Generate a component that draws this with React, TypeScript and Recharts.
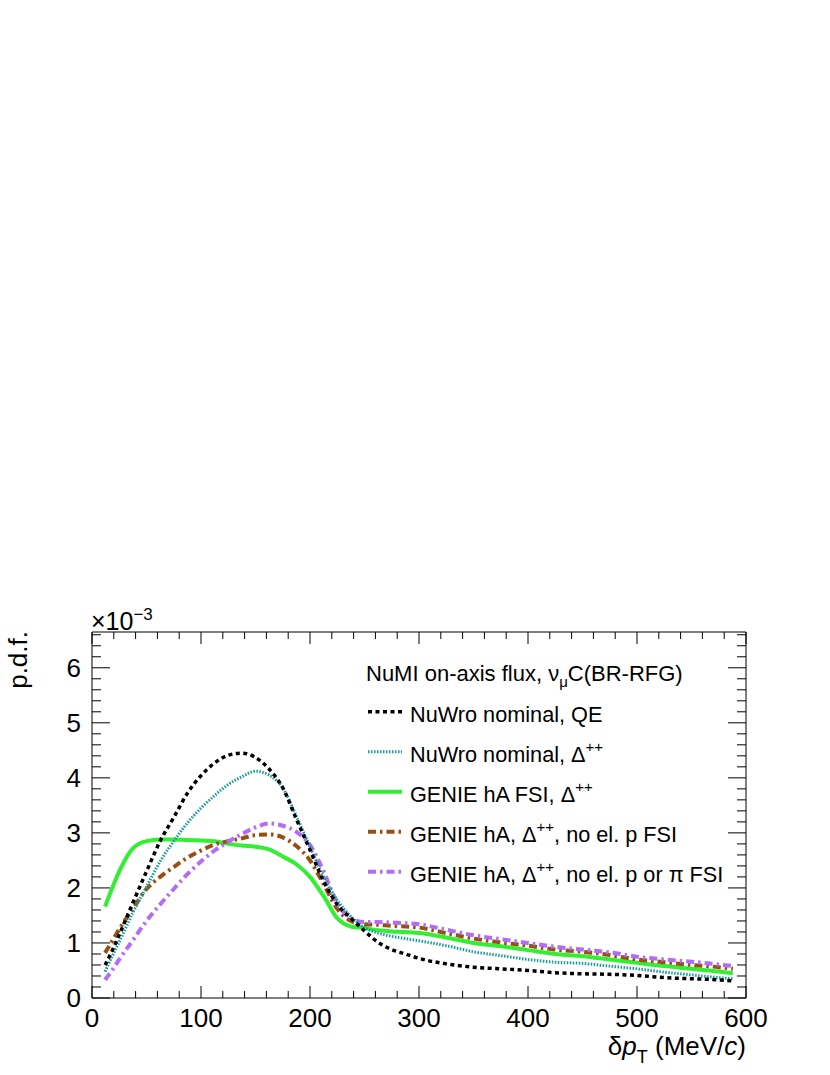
import { LineChart, Line, XAxis, YAxis } from "recharts";

// dpT bin positions (MeV/c) and p.d.f. values in units of 1e-3
const DPT = [
  12, 19, 25, 37.5, 50, 62.5, 75, 87.5, 100, 112.5, 125, 137.5, 150, 162.5, 175, 187.5, 200,
  212.5, 225, 237.5, 250, 262.5, 275, 287.5, 300, 325, 350, 375, 400, 425, 450, 475, 500, 525,
  550, 575, 588,
];

const NUWRO_QE = [
  0.6, 0.88, 1.15, 1.73, 2.3, 2.85, 3.28, 3.72, 4.04, 4.27, 4.41, 4.45, 4.37, 4.16, 3.82, 3.25,
  2.69, 2.12, 1.7, 1.45, 1.22, 1.01, 0.88, 0.8, 0.72, 0.62, 0.56, 0.53, 0.5, 0.46, 0.44, 0.43,
  0.41, 0.37, 0.35, 0.33, 0.31,
];

const NUWRO_DELTA = [
  0.48, 0.78, 1.02, 1.55, 2.02, 2.48, 2.85, 3.18, 3.45, 3.68, 3.88, 4.02, 4.12, 4.05, 3.82, 3.3,
  2.75, 2.2, 1.78, 1.48, 1.28, 1.18, 1.12, 1.08, 1.04, 0.95, 0.84, 0.77, 0.7, 0.65, 0.63, 0.58,
  0.53, 0.47, 0.42, 0.37, 0.35,
];

const GENIE_HA = [
  1.66, 2.02, 2.3, 2.72, 2.85, 2.88, 2.88, 2.87, 2.86, 2.85, 2.8, 2.77, 2.75, 2.7, 2.57, 2.43,
  2.2, 1.85, 1.45, 1.3, 1.27, 1.23, 1.21, 1.2, 1.18, 1.1, 1.0, 0.94, 0.87, 0.8, 0.76, 0.7, 0.64,
  0.58, 0.53, 0.48, 0.45,
];

const GENIE_NO_P = [
  0.82, 1.05, 1.25, 1.62, 1.98, 2.2, 2.38, 2.55, 2.68, 2.79, 2.85, 2.9, 2.96, 2.97, 2.92, 2.76,
  2.5, 2.07, 1.62, 1.4, 1.34, 1.33, 1.31, 1.3, 1.28, 1.18, 1.08, 1.01, 0.95, 0.88, 0.84, 0.78,
  0.7, 0.65, 0.6, 0.56, 0.53,
];

const GENIE_NO_P_PI = [
  0.33, 0.52, 0.7, 1.05, 1.4, 1.7, 1.98, 2.25, 2.48, 2.68, 2.84, 2.98, 3.1, 3.17, 3.13, 3.02,
  2.78, 2.3, 1.72, 1.45, 1.38, 1.38, 1.37, 1.36, 1.34, 1.24, 1.14, 1.07, 1.0, 0.93, 0.88, 0.83,
  0.75, 0.7, 0.66, 0.61, 0.58,
];

const X_LABELS = [0, 100, 200, 300, 400, 500, 600];
const Y_LABELS = [0, 1, 2, 3, 4, 5, 6];
const Y_MAX = 6.65;

// tick positions: majors plus 4 minors in between
const X_TICKS = Array.from({ length: 31 }, (_, i) => i * 20);
const Y_TICKS = Array.from({ length: 34 }, (_, i) => Math.round(i * 2) / 10);

const data = DPT.map((x, i) => ({
  x,
  qe: NUWRO_QE[i],
  nd: NUWRO_DELTA[i],
  gh: GENIE_HA[i],
  gp: GENIE_NO_P[i],
  gpp: GENIE_NO_P_PI[i],
}));

const FONT = "'Liberation Sans', Arial, Helvetica, sans-serif";

const COLORS = {
  qe: "#000000",
  nd: "#169c9c",
  gh: "#33ee33",
  gp: "#975012",
  gpp: "#b36cf8",
};

const isMajor = (v: number) => Math.abs(v - Math.round(v)) < 1e-6;

function tickFactory(side: "bottom" | "top" | "left" | "right") {
  return (props: any) => {
    const { x, y, payload } = props;
    const v = payload.value;
    if (side === "bottom" || side === "top") {
      const major = v % 100 === 0;
      const len = major ? 12 : 7;
      const dir = side === "bottom" ? -1 : 1;
      return (
        <g>
          <line x1={x} x2={x} y1={y} y2={y + dir * len} stroke="#000" strokeWidth={1} />
          {side === "bottom" && major && X_LABELS.includes(v) && (
            <text x={x} y={y + 29} textAnchor="middle" fontFamily={FONT} fontSize={26} fill="#000">
              {v}
            </text>
          )}
        </g>
      );
    }
    const major = isMajor(v);
    const len = major ? 18 : 9;
    const dir = side === "left" ? 1 : -1;
    return (
      <g>
        <line x1={x} x2={x + dir * len} y1={y} y2={y} stroke="#000" strokeWidth={1} />
        {side === "left" && major && Y_LABELS.includes(Math.round(v)) && (
          <text x={x - 11} y={y + 9} textAnchor="end" fontFamily={FONT} fontSize={26} fill="#000">
            {Math.round(v)}
          </text>
        )}
      </g>
    );
  };
}

const LEGEND = [
  { key: "qe", main: "NuWro nominal, QE", sup: "", rest: "", dash: "4 3.5", w: 3.5 },
  { key: "nd", main: "NuWro nominal, \u0394", sup: "++", rest: "", dash: "1.5 1.5", w: 3 },
  { key: "gh", main: "GENIE hA FSI, \u0394", sup: "++", rest: "", dash: undefined, w: 4 },
  { key: "gp", main: "GENIE hA, \u0394", sup: "++", rest: ", no el. p FSI", dash: "8 4 2.5 4", w: 4 },
  { key: "gpp", main: "GENIE hA, \u0394", sup: "++", rest: ", no el. p or \u03c0 FSI", dash: "8 4 2.5 4", w: 4 },
];

function Overlay() {
  return (
    <svg
      width={830}
      height={1075}
      style={{ position: "absolute", left: 0, top: 0, pointerEvents: "none" }}
    >
      <g fontFamily={FONT} fill="#000">
        {/* exponent */}
        <text x={91} y={630} fontSize={25}>
          {"\u00d710"}
          <tspan fontSize={17} dy={-10}>
            {"\u22123"}
          </tspan>
        </text>
        {/* y title */}
        <text x={27} y={631} fontSize={26} textAnchor="end" transform="rotate(-90 27 631)">
          p.d.f.
        </text>
        {/* x title */}
        <text x={746} y={1055} fontSize={26} textAnchor="end">
          {"\u03b4"}
          <tspan fontStyle="italic">p</tspan>
          <tspan fontSize={18} dy={8}>
            T
          </tspan>
          <tspan dy={-8}>{" (MeV/"}</tspan>
          <tspan fontStyle="italic">c</tspan>
          <tspan>)</tspan>
        </text>
        {/* legend */}
        <text x={366} y={681} fontSize={22}>
          {"NuMI on-axis flux, \u03bd"}
          <tspan fontSize={15} dy={6}>
            {"\u03bc"}
          </tspan>
          <tspan dy={-6}>C(BR-RFG)</tspan>
        </text>
        {LEGEND.map((e, i) => {
          const ly = 711.7 + i * 40;
          return (
            <g key={e.key}>
              <line
                x1={368}
                x2={402}
                y1={ly}
                y2={ly}
                stroke={(COLORS as any)[e.key]}
                strokeWidth={e.w}
                strokeDasharray={e.dash}
              />
              <text x={410} y={ly + 10} fontSize={21.7}>
                {e.main}
                {e.sup && (
                  <tspan fontSize={15} dy={-10}>
                    {e.sup}
                  </tspan>
                )}
                {e.rest && <tspan dy={10}>{e.rest}</tspan>}
              </text>
            </g>
          );
        })}
      </g>
    </svg>
  );
}

export default function App() {
  return (
    <div style={{ position: "absolute", left: 0, top: 0, width: 830, height: 1075, background: "#fff" }}>
      <LineChart
        width={830}
        height={1075}
        data={data}
        margin={{ top: 631, right: 83, bottom: 37, left: 32 }}
      >
        <XAxis
          xAxisId="b"
          dataKey="x"
          type="number"
          domain={[0, 600]}
          ticks={X_TICKS}
          interval={0}
          orientation="bottom"
          height={40}
          tickSize={0}
          tickMargin={0}
          tick={tickFactory("bottom")}
          tickLine={false}
          axisLine={{ stroke: "#000", strokeWidth: 1 }}
          allowDataOverflow
        />
        <XAxis
          xAxisId="t"
          dataKey="x"
          type="number"
          domain={[0, 600]}
          ticks={X_TICKS}
          interval={0}
          orientation="top"
          height={1}
          tickSize={0}
          tickMargin={0}
          tick={tickFactory("top")}
          tickLine={false}
          axisLine={{ stroke: "#000", strokeWidth: 1 }}
          allowDataOverflow
        />
        <YAxis
          yAxisId="l"
          type="number"
          domain={[0, Y_MAX]}
          ticks={Y_TICKS}
          interval={0}
          orientation="left"
          width={60}
          tickSize={0}
          tickMargin={0}
          tick={tickFactory("left")}
          tickLine={false}
          axisLine={{ stroke: "#000", strokeWidth: 1 }}
          allowDataOverflow
        />
        <YAxis
          yAxisId="r"
          type="number"
          domain={[0, Y_MAX]}
          ticks={Y_TICKS}
          interval={0}
          orientation="right"
          width={1}
          tickSize={0}
          tickMargin={0}
          tick={tickFactory("right")}
          tickLine={false}
          axisLine={{ stroke: "#000", strokeWidth: 1 }}
          allowDataOverflow
        />
        <Line xAxisId="b" yAxisId="l" type="monotone" dataKey="gh" stroke={COLORS.gh} strokeWidth={4} dot={false} isAnimationActive={false} />
        <Line xAxisId="b" yAxisId="l" type="monotone" dataKey="gp" stroke={COLORS.gp} strokeWidth={4} strokeDasharray="8 4 2.5 4" dot={false} isAnimationActive={false} />
        <Line xAxisId="b" yAxisId="l" type="monotone" dataKey="gpp" stroke={COLORS.gpp} strokeWidth={4} strokeDasharray="8 4 2.5 4" dot={false} isAnimationActive={false} />
        <Line xAxisId="b" yAxisId="l" type="monotone" dataKey="nd" stroke={COLORS.nd} strokeWidth={3} strokeDasharray="1.5 1.5" dot={false} isAnimationActive={false} />
        <Line xAxisId="b" yAxisId="l" type="monotone" dataKey="qe" stroke={COLORS.qe} strokeWidth={3.5} strokeDasharray="4 3.5" dot={false} isAnimationActive={false} />
      </LineChart>
      <Overlay />
    </div>
  );
}
